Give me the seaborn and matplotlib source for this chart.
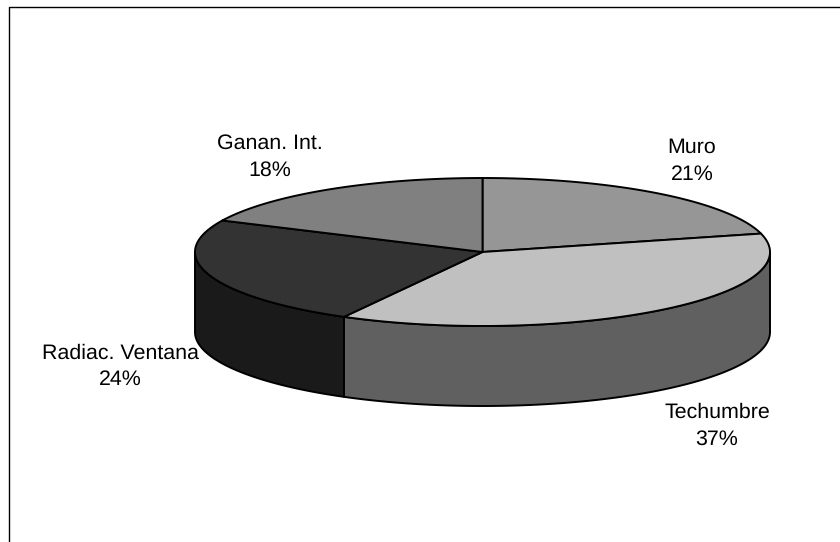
import matplotlib
matplotlib.use("Agg")
import matplotlib.pyplot as plt
import numpy as np
import seaborn as sns

categorias = ["Muro", "Techumbre", "Radiac. Ventana", "Ganan. Int."]
porcentajes = [21, 37, 24, 18]

color_tapa = ["#969696", "#C0C0C0", "#333333", "#808080"]
color_lado = ["#4B4B4B", "#606060", "#1A1A1A", "#404040"]

# centro de cada etiqueta en pixeles
pos_etiquetas = [(692, 161), (717, 426), (120, 366.5), (270, 156.5)]

# geometria de la torta
cx, cy = 482.5, 252
rx, ry = 287.5, 74
alto = 80

sns.set_theme(style="white")
plt.rcParams["font.family"] = ["Liberation Sans", "DejaVu Sans"]
plt.rcParams["text.hinting"] = "no_hinting"

fig = plt.figure(figsize=(8.4, 5.42), dpi=100)
ax = fig.add_axes([0, 0, 1, 1])
ax.set_xlim(0, 840)
ax.set_ylim(542, 0)
ax.axis("off")


def borde(a1, a2):
    t = np.radians(np.linspace(a1, a2, 200))
    return cx + rx * np.sin(t), cy - ry * np.cos(t)


# marco, solo se ve arriba y a la izquierda
ax.plot([9, 9, 840], [542, 7, 7], color="black", lw=1.0)

fin = np.cumsum(porcentajes) * 3.6
ini = fin - np.array(porcentajes) * 3.6

# paredes laterales (solo la mitad de adelante)
for i in range(len(porcentajes)):
    a1, a2 = max(ini[i], 90), min(fin[i], 270)
    if a1 < a2:
        x, y = borde(a1, a2)
        xs = np.r_[x, x[::-1]]
        ys = np.r_[y, y[::-1] + alto]
        ax.fill(xs, ys, facecolor=color_lado[i], edgecolor="black", lw=1.4, joinstyle="round")

# tapa
for i in range(len(porcentajes)):
    x, y = borde(ini[i], fin[i])
    ax.fill(np.r_[cx, x], np.r_[cy, y], facecolor=color_tapa[i], edgecolor="black", lw=1.4, joinstyle="round")

for i, nombre in enumerate(categorias):
    px, py = pos_etiquetas[i]
    ax.text(px, py, nombre + "\n" + str(porcentajes[i]) + "%", ha="center", va="center",
            fontsize=15.4, color="black", linespacing=1.48)

fig.savefig("out.png", dpi=100, facecolor="white")
